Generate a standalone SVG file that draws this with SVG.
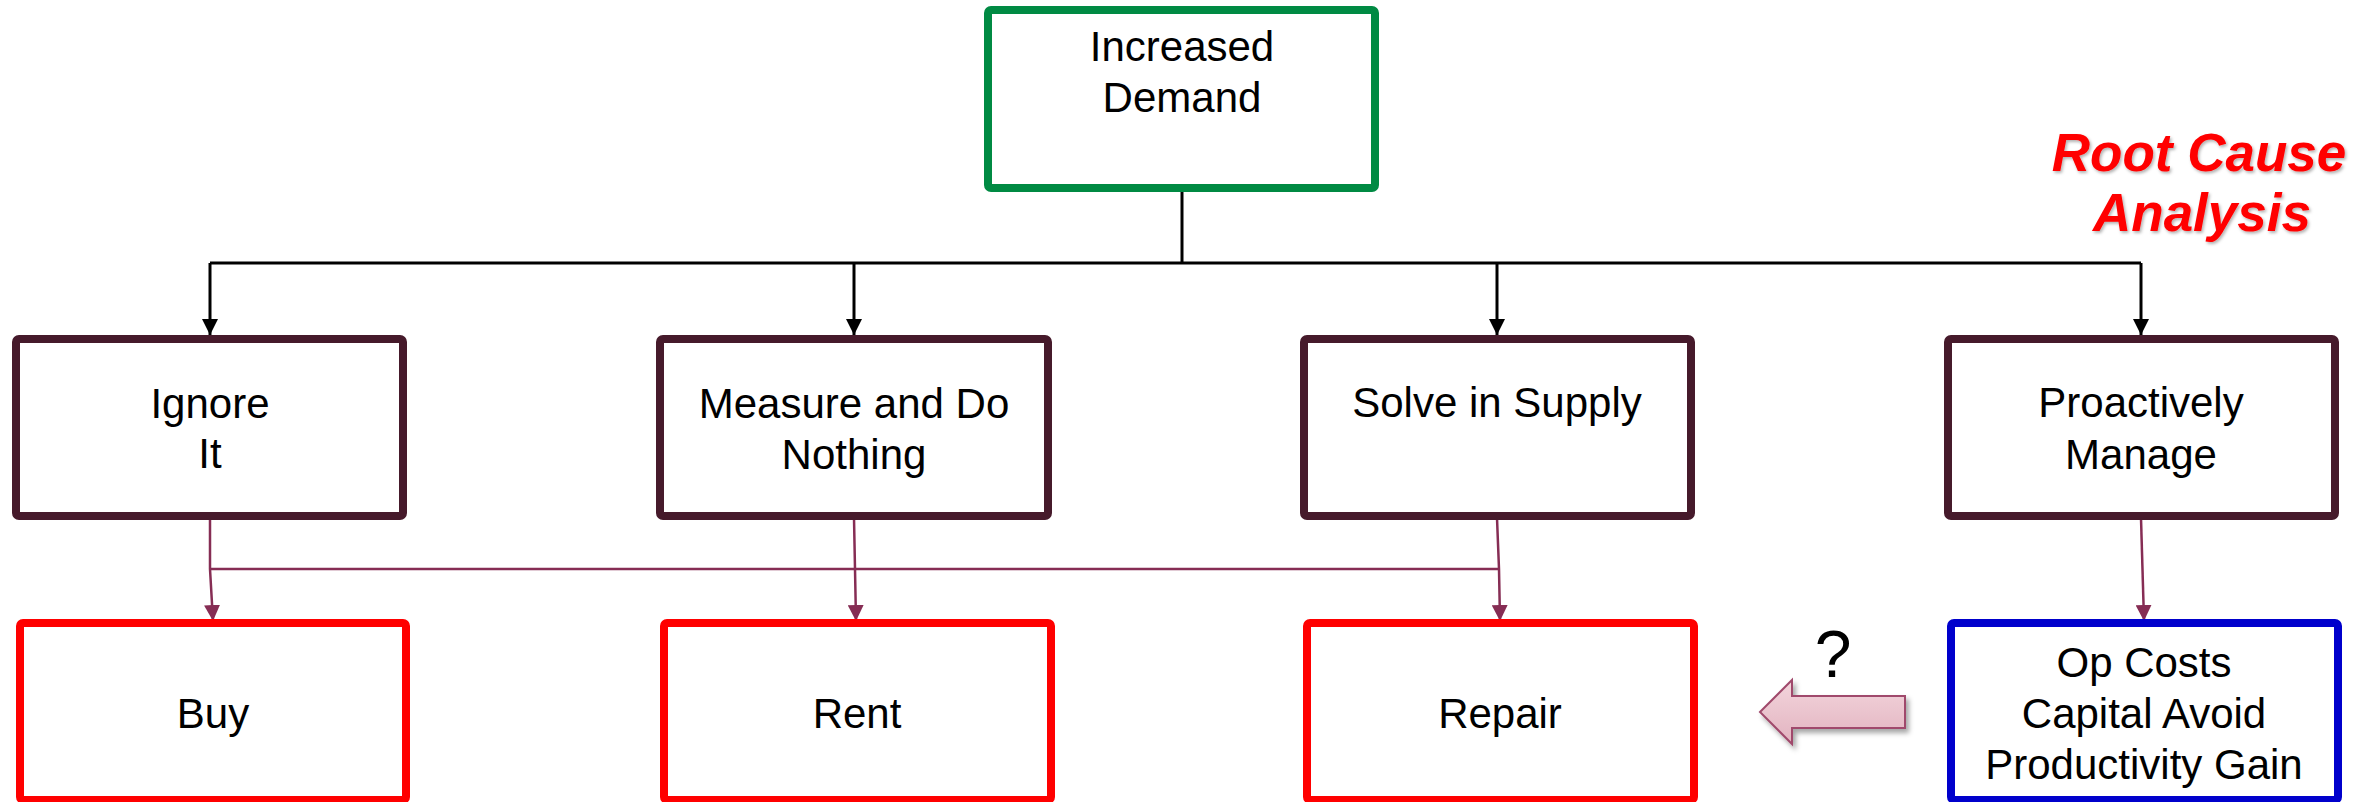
<svg xmlns="http://www.w3.org/2000/svg" width="2374" height="802" viewBox="0 0 2374 802">
<style>
  .box { fill: #ffffff; stroke-width: 8; }
  .mid { stroke: #461a2b; }
  .red { stroke: #ff0000; }
  .green { stroke: #008a43; }
  .blue { stroke: #0000cc; }
  .lbl { font-family: "Liberation Sans", Arial, sans-serif; font-size: 42px; fill: #000000; text-anchor: middle; }
  .blk { stroke: #000000; stroke-width: 3; fill: none; }
  .mar { stroke: #862d54; stroke-width: 2.5; fill: none; }
</style>
<defs>
  <marker id="ab" viewBox="0 0 16 16" refX="16" refY="8" markerWidth="16" markerHeight="16" markerUnits="userSpaceOnUse" orient="auto">
    <path d="M0,0 L16,8 L0,16 z" fill="#000000"/>
  </marker>
  <marker id="am" viewBox="0 0 16 16" refX="16" refY="8" markerWidth="16" markerHeight="16" markerUnits="userSpaceOnUse" orient="auto">
    <path d="M0,0 L16,8 L0,16 z" fill="#862d54"/>
  </marker>
  <linearGradient id="pink" x1="0" y1="0" x2="0" y2="1">
    <stop offset="0" stop-color="#f3d5dc"/>
    <stop offset="1" stop-color="#e2b3c0"/>
  </linearGradient>
  <filter id="sh" x="-20%" y="-20%" width="150%" height="160%">
    <feDropShadow dx="3" dy="4" stdDeviation="2.5" flood-color="#000000" flood-opacity="0.35"/>
  </filter>
  <filter id="tsh" x="-10%" y="-10%" width="130%" height="140%">
    <feDropShadow dx="1.5" dy="2" stdDeviation="1.5" flood-color="#000000" flood-opacity="0.3"/>
  </filter>
</defs>

<g id="connectors">
  <path class="blk" d="M1182,192 L1182,263"/>
  <path class="blk" d="M210,263 L2141,263"/>
  <path class="blk" d="M210,263 L210,335" marker-end="url(#ab)"/>
  <path class="blk" d="M854,263 L854,335" marker-end="url(#ab)"/>
  <path class="blk" d="M1497,263 L1497,335" marker-end="url(#ab)"/>
  <path class="blk" d="M2141,263 L2141,335" marker-end="url(#ab)"/>
  <path class="mar" d="M210,569 L1499,569"/>
  <path class="mar" d="M210,518 L210,569 L213,621" marker-end="url(#am)"/>
  <path class="mar" d="M854,518 L855,569 L856,621" marker-end="url(#am)"/>
  <path class="mar" d="M1497,518 L1499,569 L1500,621" marker-end="url(#am)"/>
  <path class="mar" d="M2141,518 L2144,621" marker-end="url(#am)"/>
</g>

<g id="n-increased-demand">
  <rect class="box green" x="988" y="10" width="387" height="178" rx="3"/>
  <text class="lbl" x="1182" y="61">Increased</text>
  <text class="lbl" x="1182" y="112">Demand</text>
</g>

<g id="n-ignore">
  <rect class="box mid" x="16" y="339" width="387" height="177" rx="3"/>
  <text class="lbl" x="210" y="418">Ignore</text>
  <text class="lbl" x="210" y="468">It</text>
</g>
<g id="n-measure">
  <rect class="box mid" x="660" y="339" width="388" height="177" rx="3"/>
  <text class="lbl" x="854" y="418">Measure and Do</text>
  <text class="lbl" x="854" y="469">Nothing</text>
</g>
<g id="n-solve">
  <rect class="box mid" x="1304" y="339" width="387" height="177" rx="3"/>
  <text class="lbl" x="1497" y="417">Solve in Supply</text>
</g>
<g id="n-proactive">
  <rect class="box mid" x="1948" y="339" width="387" height="177" rx="3"/>
  <text class="lbl" x="2141" y="417">Proactively</text>
  <text class="lbl" x="2141" y="469">Manage</text>
</g>

<g id="n-buy">
  <rect class="box red" x="20" y="623" width="386" height="177" rx="3"/>
  <text class="lbl" x="213" y="728">Buy</text>
</g>
<g id="n-rent">
  <rect class="box red" x="664" y="623" width="387" height="177" rx="3"/>
  <text class="lbl" x="857" y="728">Rent</text>
</g>
<g id="n-repair">
  <rect class="box red" x="1307" y="623" width="387" height="177" rx="3"/>
  <text class="lbl" x="1500" y="728">Repair</text>
</g>
<g id="n-opcosts">
  <rect class="box blue" x="1951" y="623" width="387" height="177" rx="3"/>
  <text class="lbl" x="2144" y="677">Op Costs</text>
  <text class="lbl" x="2144" y="728">Capital Avoid</text>
  <text class="lbl" x="2144" y="779">Productivity Gain</text>
</g>

<g id="block-arrow">
  <path d="M1760,712 L1792,680 L1792,696 L1905,696 L1905,728 L1792,728 L1792,744 Z" fill="url(#pink)" stroke="#a04a6c" stroke-width="2" stroke-linejoin="miter" filter="url(#sh)"/>
  <text x="1833" y="677" font-family="Liberation Sans, Arial, sans-serif" font-size="66" text-anchor="middle" fill="#000000">?</text>
</g>

<g id="title" filter="url(#tsh)">
  <text x="2199" y="171" font-family="Liberation Sans, Arial, sans-serif" font-size="53" font-weight="bold" font-style="italic" text-anchor="middle" fill="#ff0000">Root Cause</text>
  <text x="2202" y="231" font-family="Liberation Sans, Arial, sans-serif" font-size="53" font-weight="bold" font-style="italic" text-anchor="middle" fill="#ff0000">Analysis</text>
</g>
</svg>
